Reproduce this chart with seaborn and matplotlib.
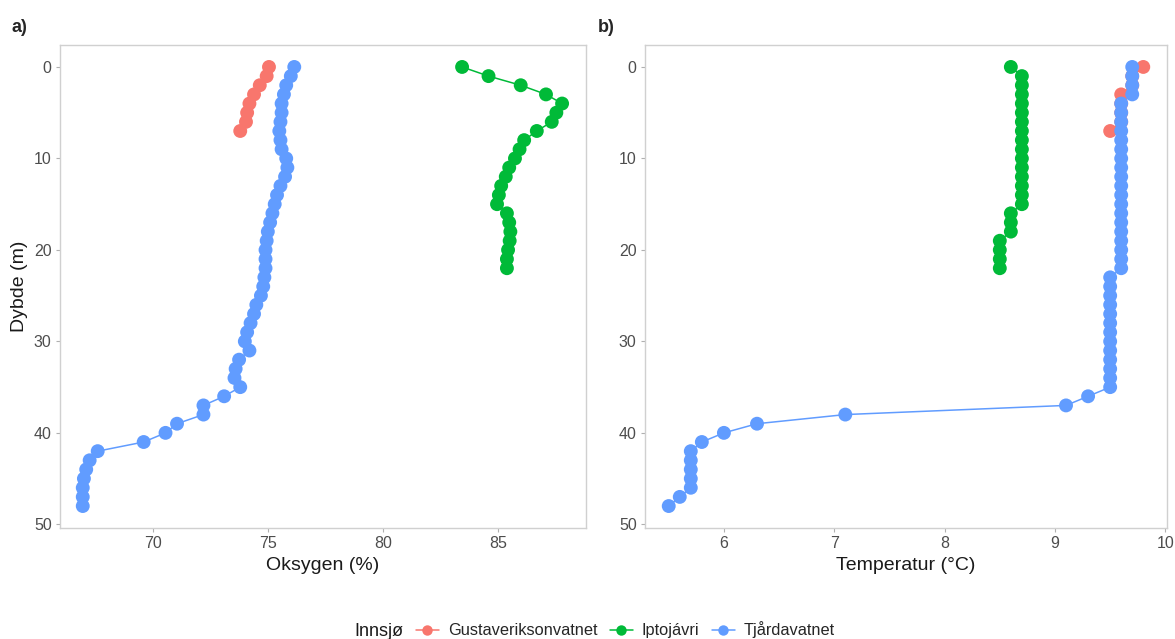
import numpy as np
import pandas as pd
import matplotlib
matplotlib.use("Agg")
import matplotlib.pyplot as plt
from matplotlib.lines import Line2D
import seaborn as sns

sns.set_theme(style="white")
plt.rcParams['font.family'] = ['Liberation Sans', 'DejaVu Sans']

lakes = ["Gustaveriksonvatnet", "Iptojávri", "Tjårdavatnet"]
colors = ["#F8766D", "#00BA38", "#619CFF"]

# Gustaveriksonvatnet
gus_depth = [0, 1, 2, 3, 4, 5, 6, 7]
gus_oxy = [75.05, 74.95, 74.65, 74.4, 74.2, 74.1, 74.05, 73.8]
gus_temp = [9.8, 9.7, 9.7, 9.6, 9.6, 9.6, 9.6, 9.5]

# Iptojávri
ipt_depth = list(range(0, 23))
ipt_oxy = [83.45, 84.6, 86.0, 87.1, 87.8, 87.55, 87.35, 86.7, 86.15, 85.95,
           85.75, 85.5, 85.35, 85.15, 85.05, 84.97, 85.4, 85.5, 85.55, 85.52,
           85.45, 85.4, 85.4]
ipt_temp = [8.6] + [8.7] * 15 + [8.6] * 3 + [8.5] * 4

# Tjårdavatnet
tja_depth = list(range(0, 49))
tja_oxy = [76.15, 76.0, 75.8, 75.7, 75.6, 75.6, 75.55, 75.5, 75.55, 75.6,
           75.8, 75.85, 75.75, 75.55, 75.4, 75.3, 75.2, 75.1, 75.0, 74.95,
           74.9, 74.9, 74.9, 74.85, 74.8, 74.7, 74.5, 74.4, 74.25, 74.1,
           74.0, 74.2, 73.75, 73.6, 73.55, 73.8, 73.1, 72.2, 72.2, 71.05,
           70.55, 69.6, 67.6, 67.25, 67.1, 67.0, 66.95, 66.95, 66.95]
tja_temp = [9.7] * 4 + [9.6] * 19 + [9.5] * 13 + [9.3, 9.1, 7.1, 6.3, 6.0, 5.8] \
           + [5.7] * 5 + [5.6, 5.5]

frames = []
for name, d, o, t in [(lakes[0], gus_depth, gus_oxy, gus_temp),
                      (lakes[1], ipt_depth, ipt_oxy, ipt_temp),
                      (lakes[2], tja_depth, tja_oxy, tja_temp)]:
    frames.append(pd.DataFrame({"Innsjø": name, "Dybde": d,
                                "Oksygen": o, "Temperatur": t}))
df = pd.concat(frames, ignore_index=True)
palette = dict(zip(lakes, colors))

W, H = 1175, 639
fig = plt.figure(figsize=(W / 100, H / 100), dpi=100)
ax_a = fig.add_axes([60 / W, 1 - 528 / H, 526 / W, 483 / H])
ax_b = fig.add_axes([645 / W, 1 - 528 / H, 522 / W, 483 / H])

for ax, col, xlabel, xticks, xlim in [
        (ax_a, "Oksygen", "Oksygen (%)", [70, 75, 80, 85], (65.96, 88.84)),
        (ax_b, "Temperatur", "Temperatur (°C)", [6, 7, 8, 9, 10], (5.285, 10.015))]:
    sns.lineplot(data=df, x=col, y="Dybde", hue="Innsjø", palette=palette,
                 hue_order=lakes, estimator=None, sort=False, orient="y",
                 linewidth=1.1, legend=False, ax=ax)
    sns.scatterplot(data=df, x=col, y="Dybde", hue="Innsjø", palette=palette,
                    hue_order=lakes, s=100, linewidth=0, legend=False, ax=ax,
                    zorder=3)
    ax.set_xlim(*xlim)
    ax.set_ylim(50.4, -2.4)
    ax.set_xticks(xticks)
    ax.set_yticks([0, 10, 20, 30, 40, 50])
    ax.set_xlabel(xlabel, fontsize=14, color="#1a1a1a", labelpad=4)
    ax.set_ylabel("")
    for s in ax.spines.values():
        s.set_color("#d0d0d0")
        s.set_linewidth(1.0)
    ax.tick_params(axis="both", which="both", length=3, width=0.8,
                   color="#b0b0b0", labelsize=11.5, labelcolor="#4d4d4d",
                   bottom=True, left=True, pad=3)
    ax.grid(False)
    ax.set_facecolor("white")

ax_a.set_ylabel("Dybde (m)", fontsize=14, color="#1a1a1a", labelpad=4)

fig.text(12 / W, 1 - 28 / H, "a)", fontsize=13, fontweight="bold",
         va="center", ha="left")
fig.text(598 / W, 1 - 28 / H, "b)", fontsize=13, fontweight="bold",
         va="center", ha="left")

handles = [Line2D([0], [0], color=c, marker="o", markersize=7.5, linewidth=1.1,
                  markeredgewidth=0) for c in colors]
fig.text(354 / W, 1 - 631 / H, "Innsjø", fontsize=13, color="#1a1a1a",
         va="center", ha="left")
fig.legend(handles, lakes, loc="center left", bbox_to_anchor=(416 / W, 1 - 630 / H),
           ncol=3, frameon=False, fontsize=11.8, handlelength=1.4,
           handletextpad=0.55, columnspacing=0.75, borderpad=0, borderaxespad=0)

fig.savefig("out.png", dpi=100, facecolor="white")
